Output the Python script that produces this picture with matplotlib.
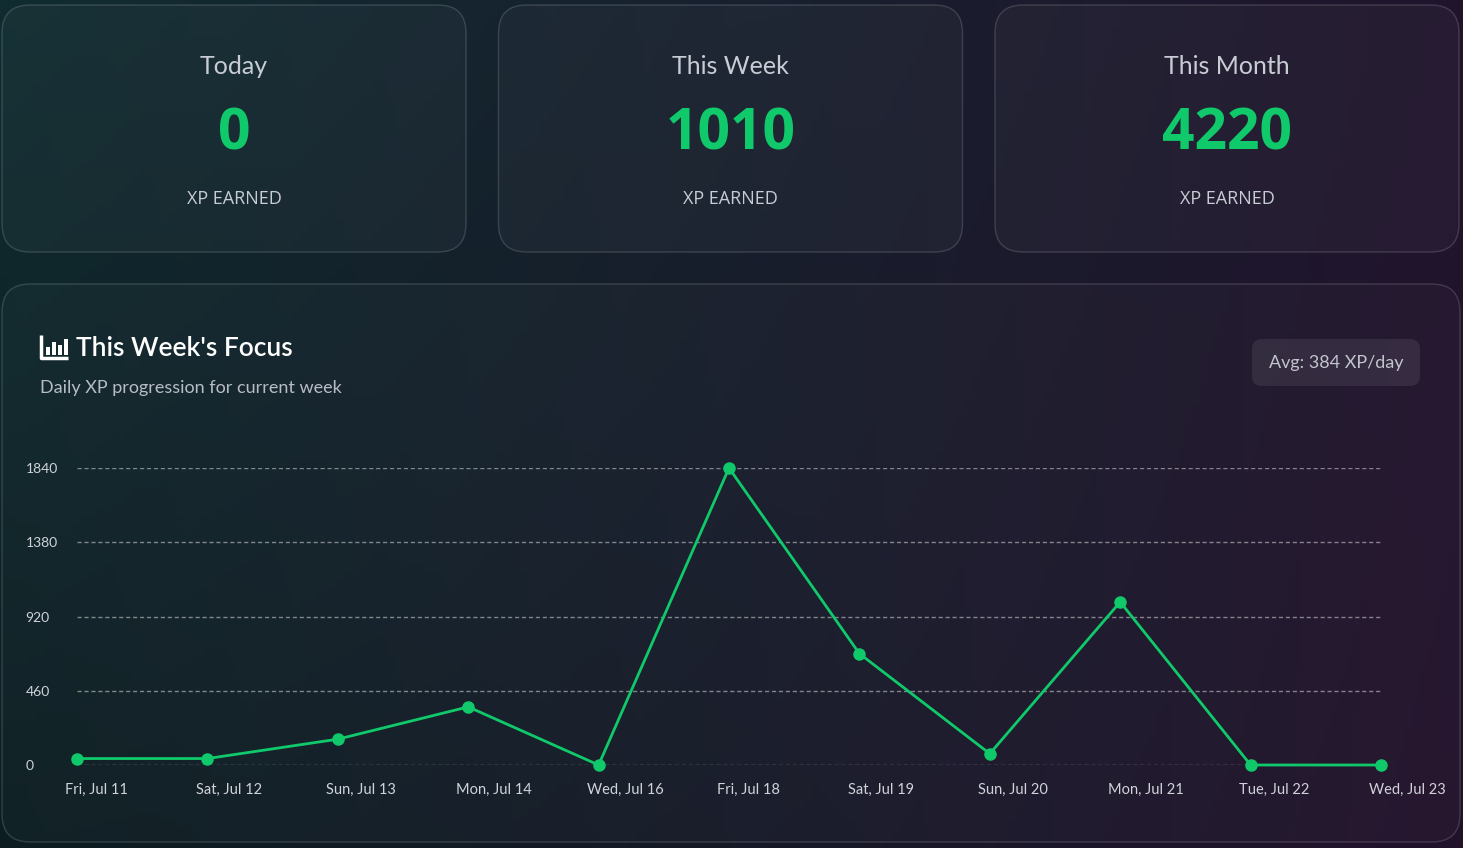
import numpy as np
import matplotlib.pyplot as plt
from matplotlib.patches import FancyBboxPatch, Rectangle

days = ["Fri, Jul 11", "Sat, Jul 12", "Sun, Jul 13", "Mon, Jul 14", "Wed, Jul 16", "Fri, Jul 18",
        "Sat, Jul 19", "Sun, Jul 20", "Mon, Jul 21", "Tue, Jul 22", "Wed, Jul 23"]
xp = [40, 40, 160, 360, 0, 1840, 690, 70, 1010, 0, 0]
yticks = [0, 460, 920, 1380, 1840]
card_titles = ["Today", "This Week", "This Month"]
card_values = ["0", "1010", "4220"]

W, H = 1463, 848
fig = plt.figure(figsize=(W / 100, H / 100), dpi=100)

# background gradient
bg = fig.add_axes([0, 0, 1, 1])
gx, gy = np.meshgrid(np.linspace(0, 1, 200), np.linspace(0, 1, 120))
c1 = np.array([0x10, 0x2c, 0x30]) / 255
c2 = np.array([0x22, 0x12, 0x2c]) / 255
t = np.clip(gx * 0.9 + gy * 0.1, 0, 1)[..., None]
img = c1 * (1 - t) + c2 * t
img = img * (1 - 0.3 * gy[..., None] * (1 - gx[..., None]))
bg.imshow(img, extent=[0, W, H, 0], aspect='auto')
bg.set_xlim(0, W)
bg.set_ylim(H, 0)
bg.axis('off')

def card(x0, y0, x1, y1, fc):
    bg.add_patch(FancyBboxPatch((x0, y0), x1 - x0, y1 - y0, boxstyle="round,pad=0,rounding_size=28",
                                fc=fc, ec=(1, 1, 1, 0.15), lw=1, mutation_aspect=1))

for i, (tt, vv) in enumerate(zip(card_titles, card_values)):
    x0 = 2 + i * 496.5
    card(x0, 5, x0 + 464, 252, (1, 1, 1, 0.03))
    cx = x0 + 232
    bg.text(cx, 67, tt, color='#c8ccd4', fontsize=18, ha='center', va='center', family='Lato')
    bg.text(cx, 134, vv, color='#10c96a', fontsize=41, ha='center', va='center', weight='bold',
            family='Open Sans')
    bg.text(cx, 199, "XP EARNED", color='#c8ccd4', fontsize=13, ha='center', va='center',
            family='Open Sans')

card(2, 284, 1460, 842, (1, 1, 1, 0.025))
# chart icon
bg.plot([41, 41, 68], [335, 358, 358], color='white', lw=2.5, solid_capstyle='butt')
for bx, bh in zip([46, 52, 58, 64], [8, 13, 10, 16]):
    bg.add_patch(Rectangle((bx, 355 - bh), 3.5, bh, fc='white', ec='none'))
bg.text(76, 348, "This Week's Focus", color='white', fontsize=19, ha='left', va='center',
        weight='semibold', family='Lato')
bg.text(40, 388, "Daily XP progression for current week", color='#b8bcc6', fontsize=13,
        ha='left', va='center', family='Lato')
bg.add_patch(FancyBboxPatch((1252, 339), 168, 47, boxstyle="round,pad=0,rounding_size=10",
                            fc=(1, 1, 1, 0.08), ec='none'))
bg.text(1336, 363, "Avg: 384 XP/day", color='#c0c4cc', fontsize=13, ha='center', va='center',
        family='Lato')

# chart
ax = fig.add_axes([77 / W, 1 - 765 / H, (1381 - 77) / W, (765 - 468) / H])
ax.patch.set_alpha(0)
xs = np.arange(len(days))
ax.plot(xs, xp, color='#10c96a', lw=2, marker='o', ms=8, zorder=3, clip_on=False)
ax.set_xlim(0, len(days) - 1)
ax.set_ylim(0, 1840)
ax.set_yticks(yticks)
ax.set_yticklabels([str(v) for v in yticks], color='#d0d3da', fontsize=10, family='Lato')
for lab in ax.get_yticklabels():
    lab.set_horizontalalignment('left')
ax.tick_params(axis='y', length=0, pad=37)
ax.set_xticks([])
for v in yticks:
    ax.axhline(v, color=(1, 1, 1, 0.45), lw=1, ls=(0, (3, 2)), zorder=1)
for s in ax.spines.values():
    s.set_visible(False)
for x, d in zip(xs, days):
    ax.text(x - 0.09, -0.085, d, transform=ax.get_xaxis_transform(), color='#d0d3da',
            fontsize=10.5, ha='left', va='center', family='Lato')

fig.savefig("out.png", dpi=100)
